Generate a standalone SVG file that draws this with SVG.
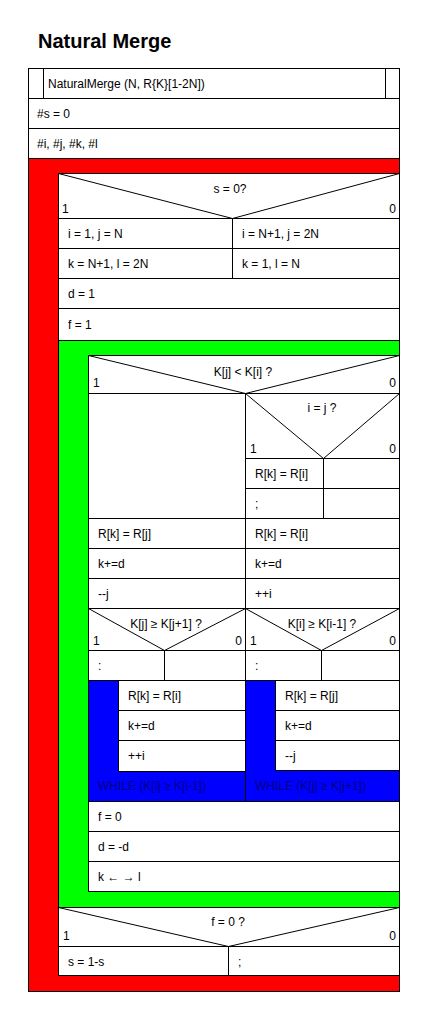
<svg xmlns="http://www.w3.org/2000/svg" width="426" height="1023" viewBox="0 0 426 1023">
<style>
  text { font-family: "Liberation Sans", Arial, sans-serif; font-size: 12px; fill: #000; }
  .title { font-size: 20px; font-weight: bold; }
  .c { text-anchor: middle; }
  .r { text-anchor: end; }
  .box { fill: #fff; stroke: #000; stroke-width: 1; }
  .red { fill: #ff0000; stroke: #000; stroke-width: 1; }
  .green { fill: #00ff00; stroke: #000; stroke-width: 1; }
  .blue { fill: #0000ff; stroke: #000; stroke-width: 1; }
  .ln { fill: none; stroke: #000; stroke-width: 1; }
  .wt { fill: #000080; }
</style>
<rect width="426" height="1023" fill="#fff"/>
<text class="title" x="38" y="48">Natural Merge</text>

<g id="header">
  <rect class="box" x="28.5" y="68.5" width="371" height="30"/>
  <line class="ln" x1="43.5" y1="68.5" x2="43.5" y2="98.5"/>
  <line class="ln" x1="385.5" y1="68.5" x2="385.5" y2="98.5"/>
  <text x="48" y="88">NaturalMerge (N, R{K}[1-2N])</text>
</g>
<g id="decl-s">
  <rect class="box" x="28.5" y="98.5" width="371" height="30"/>
  <text x="37" y="118">#s = 0</text>
</g>
<g id="decl-ijkl">
  <rect class="box" x="28.5" y="128.5" width="371" height="30"/>
  <text x="37" y="148">#i, #j, #k, #l</text>
</g>

<g id="loop-outer">
  <rect class="red" x="28.5" y="158.5" width="371" height="833"/>
</g>

<g id="dec-s0">
  <rect class="box" x="58.5" y="173.5" width="341" height="45"/>
  <polyline class="ln" points="58.5,173.5 232.5,218.5 399.5,173.5"/>
  <text class="c" x="230" y="193">s = 0?</text>
  <text x="62" y="213">1</text>
  <text class="r" x="396" y="213">0</text>
</g>
<g id="set-ij">
  <rect class="box" x="58.5" y="218.5" width="174" height="30"/>
  <text x="68" y="238">i = 1, j = N</text>
  <rect class="box" x="232.5" y="218.5" width="167" height="30"/>
  <text x="242" y="238">i = N+1, j = 2N</text>
</g>
<g id="set-kl">
  <rect class="box" x="58.5" y="248.5" width="174" height="30"/>
  <text x="68" y="268">k = N+1, l = 2N</text>
  <rect class="box" x="232.5" y="248.5" width="167" height="30"/>
  <text x="242" y="268">k = 1, l = N</text>
</g>
<g id="set-d">
  <rect class="box" x="58.5" y="278.5" width="341" height="30"/>
  <text x="68" y="298">d = 1</text>
</g>
<g id="set-f">
  <rect class="box" x="58.5" y="308.5" width="341" height="32"/>
  <text x="68" y="329">f = 1</text>
</g>

<g id="loop-inner">
  <rect class="green" x="58.5" y="340.5" width="341" height="567"/>
</g>

<g id="dec-kjki">
  <rect class="box" x="88.5" y="355.5" width="311" height="38"/>
  <polyline class="ln" points="88.5,355.5 245.5,393.5 399.5,355.5"/>
  <text class="c" x="243" y="376">K[j] &lt; K[i] ?</text>
  <text x="93" y="387">1</text>
  <text class="r" x="396" y="387">0</text>
</g>
<g id="empty-yes">
  <rect class="box" x="88.5" y="393.5" width="157" height="125"/>
</g>
<g id="dec-ij">
  <rect class="box" x="245.5" y="393.5" width="154" height="65"/>
  <polyline class="ln" points="245.5,393.5 323.5,458.5 399.5,393.5"/>
  <text class="c" x="322" y="412">i = j ?</text>
  <text x="250" y="453">1</text>
  <text class="r" x="396" y="453">0</text>
</g>
<g id="ij-yes">
  <rect class="box" x="245.5" y="458.5" width="78" height="30"/>
  <text x="255" y="478">R[k] = R[i]</text>
  <rect class="box" x="245.5" y="488.5" width="78" height="30"/>
  <text x="255" y="508">;</text>
</g>
<g id="ij-no">
  <rect class="box" x="323.5" y="458.5" width="76" height="30"/>
  <rect class="box" x="323.5" y="488.5" width="76" height="30"/>
</g>
<g id="assign-left">
  <rect class="box" x="88.5" y="518.5" width="157" height="30"/>
  <text x="98" y="538">R[k] = R[j]</text>
  <rect class="box" x="88.5" y="548.5" width="157" height="30"/>
  <text x="98" y="568">k+=d</text>
  <rect class="box" x="88.5" y="578.5" width="157" height="30"/>
  <text x="98" y="598">--j</text>
</g>
<g id="assign-right">
  <rect class="box" x="245.5" y="518.5" width="154" height="30"/>
  <text x="255" y="538">R[k] = R[i]</text>
  <rect class="box" x="245.5" y="548.5" width="154" height="30"/>
  <text x="255" y="568">k+=d</text>
  <rect class="box" x="245.5" y="578.5" width="154" height="30"/>
  <text x="255" y="598">++i</text>
</g>

<g id="dec-left">
  <rect class="box" x="88.5" y="608.5" width="157" height="42"/>
  <polyline class="ln" points="88.5,608.5 164.5,650.5 245.5,608.5"/>
  <text class="c" x="166" y="628">K[j] ≥ K[j+1] ?</text>
  <text x="93" y="645">1</text>
  <text class="r" x="242" y="645">0</text>
  <rect class="box" x="88.5" y="650.5" width="76" height="30"/>
  <text x="98" y="670">:</text>
  <rect class="box" x="164.5" y="650.5" width="81" height="30"/>
</g>
<g id="dec-right">
  <rect class="box" x="245.5" y="608.5" width="154" height="42"/>
  <polyline class="ln" points="245.5,608.5 321.5,650.5 399.5,608.5"/>
  <text class="c" x="322" y="628">K[i] ≥ K[i-1] ?</text>
  <text x="250" y="645">1</text>
  <text class="r" x="396" y="645">0</text>
  <rect class="box" x="245.5" y="650.5" width="76" height="30"/>
  <text x="255" y="670">:</text>
  <rect class="box" x="321.5" y="650.5" width="78" height="30"/>
</g>

<g id="loop-left">
  <rect class="blue" x="88.5" y="680.5" width="157" height="121"/>
  <rect class="box" x="118.5" y="680.5" width="127" height="30"/>
  <text x="128" y="700">R[k] = R[i]</text>
  <rect class="box" x="118.5" y="710.5" width="127" height="30"/>
  <text x="128" y="730">k+=d</text>
  <rect class="box" x="118.5" y="740.5" width="127" height="31"/>
  <text x="128" y="760">++i</text>
  <text class="wt" x="98" y="790">WHILE (K[i] ≥ K[i-1])</text>
</g>
<g id="loop-right">
  <rect class="blue" x="245.5" y="680.5" width="154" height="121"/>
  <rect class="box" x="275.5" y="680.5" width="124" height="30"/>
  <text x="285" y="700">R[k] = R[j]</text>
  <rect class="box" x="275.5" y="710.5" width="124" height="30"/>
  <text x="285" y="730">k+=d</text>
  <rect class="box" x="275.5" y="740.5" width="124" height="30"/>
  <text x="285" y="760">--j</text>
  <text class="wt" x="255" y="790">WHILE (K[j] ≥ K[j+1])</text>
</g>

<g id="set-f0">
  <rect class="box" x="88.5" y="801.5" width="311" height="30"/>
  <text x="98" y="821">f = 0</text>
</g>
<g id="neg-d">
  <rect class="box" x="88.5" y="831.5" width="311" height="30"/>
  <text x="98" y="851">d = -d</text>
</g>
<g id="swap-kl">
  <rect class="box" x="88.5" y="861.5" width="311" height="30"/>
  <text x="98" y="881">k ← → l</text>
</g>

<g id="dec-f0">
  <rect class="box" x="58.5" y="907.5" width="341" height="39"/>
  <polyline class="ln" points="58.5,907.5 228.5,946.5 399.5,907.5"/>
  <text class="c" x="228" y="926">f = 0 ?</text>
  <text x="63" y="940">1</text>
  <text class="r" x="396" y="940">0</text>
  <rect class="box" x="58.5" y="946.5" width="170" height="29"/>
  <text x="68" y="966">s = 1-s</text>
  <rect class="box" x="228.5" y="946.5" width="171" height="29"/>
  <text x="238" y="966">;</text>
</g>

<g id="connectors"></g>
</svg>
